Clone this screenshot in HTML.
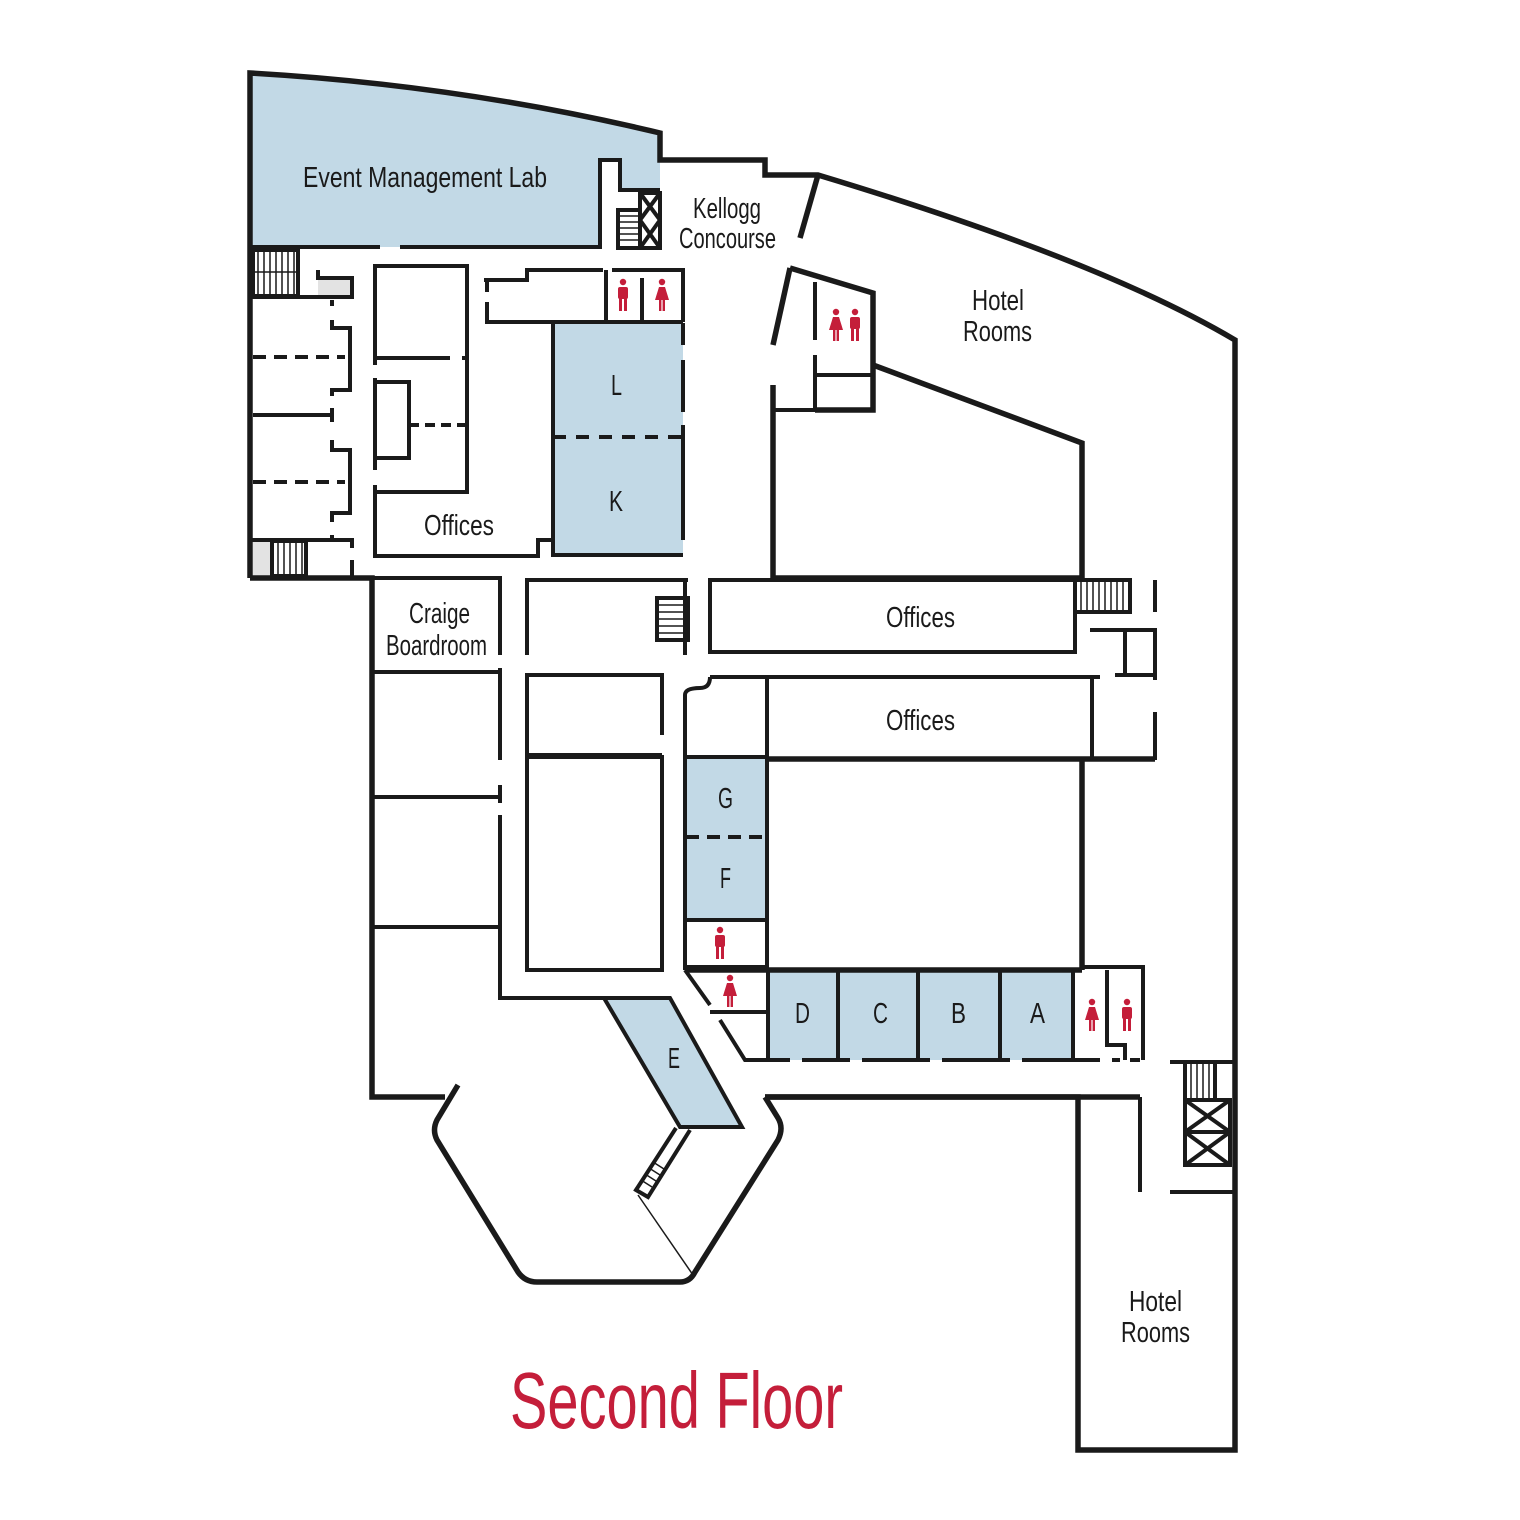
<!DOCTYPE html>
<html><head><meta charset="utf-8"><style>
html,body{margin:0;padding:0;background:#fff}
svg{display:block}
text{font-family:"Liberation Sans Narrow","Liberation Sans",sans-serif;fill:#1a1a1a}
</style></head><body>
<svg width="1520" height="1520" viewBox="0 0 1520 1520" xmlns="http://www.w3.org/2000/svg">
<defs>
<g id="man" fill="#c41e3a"><circle cx="0" cy="-14" r="3.2"/><rect x="-5" y="-9" width="10" height="12" rx="2"/><rect x="-4" y="2" width="3" height="13"/><rect x="1" y="2" width="3" height="13"/></g>
<g id="woman" fill="#c41e3a"><circle cx="0" cy="-14" r="3.2"/><path d="M-3,-9 L3,-9 L7,4 L-7,4 Z"/><rect x="-3" y="3" width="2.4" height="12"/><rect x="0.6" y="3" width="2.4" height="12"/></g>
</defs>
<g fill="#c2d9e6">
<path d="M250,73 Q460,85 660,133 L660,190 L620,190 L620,160 L600,160 L600,247 L250,247Z"/>
<rect x="553" y="323" width="130" height="231"/>
<rect x="686" y="757" width="80" height="163"/>
<rect x="768" y="970" width="305" height="90"/>
<polygon points="604,998 670,998 742,1127 680,1127"/>
</g>
<g fill="#e3e3e3"><rect x="318" y="278" width="34" height="18"/><rect x="253" y="541" width="20" height="35"/></g>
<g fill="none" stroke="#1a1a1a" stroke-width="5.5" stroke-linejoin="miter">
<path d="M250,578 L250,73 Q460,85 660,133 L660,160 L765,160 L765,175 L818,175 Q1100,260 1235,340 L1235,1450 L1078,1450 L1078,1097 L765,1097"/>
<path d="M250,578 L372,578 L372,1097 L445,1097"/>
<path d="M458,1085 L437,1120 Q432,1130 437,1140 L518,1272 Q525,1282 537,1282 L680,1282 Q690,1282 695,1272 L778,1140 Q784,1128 778,1118 L765,1097"/>
<path d="M818,175 L800,238"/>
<path d="M790,268 L773,345"/>
<path d="M790,268 L873,293 L873,410 L815,410"/>
<path d="M873,365 L1082,443 L1082,578"/>
<path d="M773,385 L773,578 L1082,578"/>
<path d="M1082,757 L1082,970"/>
<path d="M767,759 L1155,759"/>
<path d="M765,1097 L1140,1097"/>
<path d="M685,970 L1082,970"/>
</g>
<g fill="none" stroke="#1a1a1a" stroke-width="4">
<path d="M250,247 L380,247 M400,247 L600,247 L600,160 L620,160 L620,190 L660,190"/>
<rect x="640" y="193" width="20" height="55"/><path d="M640,193 L660,220 M660,193 L640,220 M640,220 L660,248 M660,220 L640,248"/>
<rect x="618" y="210" width="22" height="38"/>
<path d="M250,297 L352,297 L352,278 L318,278 L318,270"/>
<rect x="253" y="250" width="45" height="46"/>
<path d="M332,300 L332,306 M332,320 L332,328 L350,328 L350,390 L332,390 L332,396 M253,415 L332,415 M332,408 L332,422 M332,440 L332,450 L350,450 L350,513 L332,513 L332,522 M332,535 L332,540 M250,540 L352,540 L352,548 M352,560 L352,578"/>
<path d="M253,357 L345,357 M253,482 L345,482" stroke-dasharray="13,8"/>
<rect x="272" y="541" width="34" height="35"/>
<path d="M375,365 L375,266 L467,266 L467,492 L375,492 M375,358 L450,358 M462,358 L467,358"/>
<path d="M375,378 L375,470 M375,485 L375,556 L538,556 L538,540 L553,540"/>
<rect x="375" y="382" width="34" height="76"/>
<path d="M409,425 L467,425" stroke-dasharray="10,6"/>
<path d="M487,280 L487,292 M487,302 L487,322 L683,322 M484,280 L527,280 L527,270 L603,270 M612,270 L683,270 L683,322 M606,270 L606,322 M642,278 L642,322 M640,270 L646,270"/>
<path d="M553,323 L553,555 L683,555 M683,323 L683,345 M683,360 L683,412 M683,425 L683,540"/>
<path d="M553,437 L683,437" stroke-dasharray="13,10"/>
<path d="M815,282 L815,340 M815,355 L815,408 M815,375 L873,375 M773,410 L815,410"/>
<path d="M372,578 L500,578 L500,655 M372,672 L500,672 M500,668 L500,760 M372,797 L500,797 M500,785 L500,803 M372,927 L500,927 M500,815 L500,998 L604,998"/>
<path d="M527,655 L527,580 L688,580 M685,580 L685,655"/>
<rect x="657" y="598" width="31" height="42"/>
<path d="M527,755 L527,675 L662,675 L662,735 M527,755 L662,755"/>
<rect x="527" y="757" width="135" height="213"/>
<rect x="710" y="580" width="365" height="72"/>
<rect x="1075" y="580" width="55" height="32"/>
<path d="M1155,580 L1155,612 M1155,628 L1155,680 M1155,712 L1155,760 M1090,630 L1155,630 M1125,630 L1125,675 L1155,675 M1115,675 L1125,675"/>
<path d="M710,677 L1100,677 M767,677 L767,757 M1092,677 L1092,757 M685,757 L767,757"/>
<path d="M685,970 L685,695 Q685,688 700,688 Q710,688 710,677"/>
<path d="M767,757 L767,970 M685,920 L767,920 M685,967 L767,967"/>
<path d="M686,837 L765,837" stroke-dasharray="13,8"/>
<path d="M768,970 L768,1060 M838,970 L838,1060 M918,970 L918,1060 M1000,970 L1000,1060 M1073,970 L1073,1060 M1082,967 L1143,967 L1143,1060 M1107,970 L1107,1045 L1125,1045 L1125,1060"/>
<path d="M685,970 L710,1005 M720,1020 L745,1060 L790,1060 M802,1060 L850,1060 M862,1060 L930,1060 M942,1060 L1010,1060 M1022,1060 L1100,1060 M1112,1060 L1120,1060 M1130,1060 L1140,1060 M710,1012 L768,1012"/>
<polygon points="604,998 670,998 742,1127 680,1127"/>
<path d="M1140,1097 L1140,1192 M1170,1192 L1235,1192 M1170,1062 L1235,1062"/>
<rect x="1185" y="1062" width="30" height="38"/>
<rect x="1185" y="1100" width="45" height="65"/>
<path d="M1185,1100 L1230,1132 M1230,1100 L1185,1132 M1185,1132 L1230,1165 M1230,1132 L1185,1165 M1185,1132 L1230,1132"/>
<path d="M676,1128 L636,1190 L648,1197 L690,1130"/>
</g>
<path d="M638,1195 L693,1275" stroke="#1a1a1a" stroke-width="1.5"/>
<g stroke="#1a1a1a" stroke-width="1.5">
<path d="M258,250V296M264,250V296M270,250V296M276,250V296M282,250V296M288,250V296M294,250V296M253,272H298"/>
<path d="M278,541V576M284,541V576M290,541V576M296,541V576M302,541V576"/>
<path d="M657,605H688M657,612H688M657,619H688M657,626H688M657,633H688"/>
<path d="M618,216H640M618,222H640M618,228H640M618,234H640M618,240H640"/>
<path d="M1081,580V612M1087,580V612M1093,580V612M1099,580V612M1105,580V612M1111,580V612M1117,580V612M1123,580V612"/>
<path d="M1191,1062V1100M1197,1062V1100M1203,1062V1100M1209,1062V1100"/>
<path d="M641,1180L652,1187M645,1174L656,1181M649,1168L660,1175M653,1162L664,1169"/>
</g>
<use href="#man" x="623" y="296"/><use href="#woman" x="662" y="296"/>
<use href="#woman" x="836" y="326"/><use href="#man" x="855" y="326"/>
<use href="#man" x="720" y="944"/><use href="#woman" x="730" y="992"/>
<use href="#woman" x="1092" y="1016"/><use href="#man" x="1127" y="1016"/>
<g font-size="29" lengthAdjust="spacingAndGlyphs">
<text x="303" y="187" textLength="244" lengthAdjust="spacingAndGlyphs">Event Management Lab</text>
<text x="693" y="218" textLength="68" lengthAdjust="spacingAndGlyphs">Kellogg</text>
<text x="679" y="248" textLength="97" lengthAdjust="spacingAndGlyphs">Concourse</text>
<text x="972" y="310" textLength="52" lengthAdjust="spacingAndGlyphs">Hotel</text>
<text x="963" y="341" textLength="69" lengthAdjust="spacingAndGlyphs">Rooms</text>
<text x="424" y="535" textLength="70" lengthAdjust="spacingAndGlyphs">Offices</text>
<text x="611" y="395" textLength="11" lengthAdjust="spacingAndGlyphs">L</text>
<text x="609" y="511" textLength="14" lengthAdjust="spacingAndGlyphs">K</text>
<text x="409" y="623" textLength="61" lengthAdjust="spacingAndGlyphs">Craige</text>
<text x="386" y="655" textLength="101" lengthAdjust="spacingAndGlyphs">Boardroom</text>
<text x="886" y="627" textLength="69" lengthAdjust="spacingAndGlyphs">Offices</text>
<text x="886" y="730" textLength="69" lengthAdjust="spacingAndGlyphs">Offices</text>
<text x="718" y="808" textLength="15" lengthAdjust="spacingAndGlyphs">G</text>
<text x="720" y="888" textLength="11" lengthAdjust="spacingAndGlyphs">F</text>
<text x="795" y="1023" textLength="15" lengthAdjust="spacingAndGlyphs">D</text>
<text x="873" y="1023" textLength="15" lengthAdjust="spacingAndGlyphs">C</text>
<text x="951" y="1023" textLength="15" lengthAdjust="spacingAndGlyphs">B</text>
<text x="1030" y="1023" textLength="15" lengthAdjust="spacingAndGlyphs">A</text>
<text x="668" y="1068" textLength="12" lengthAdjust="spacingAndGlyphs">E</text>
<text x="1129" y="1311" textLength="53" lengthAdjust="spacingAndGlyphs">Hotel</text>
<text x="1121" y="1342" textLength="69" lengthAdjust="spacingAndGlyphs">Rooms</text>
</g>
<text x="510" y="1428" font-size="80" style="fill:#c41e3a" textLength="333" lengthAdjust="spacingAndGlyphs">Second Floor</text>
</svg>
</body></html>
